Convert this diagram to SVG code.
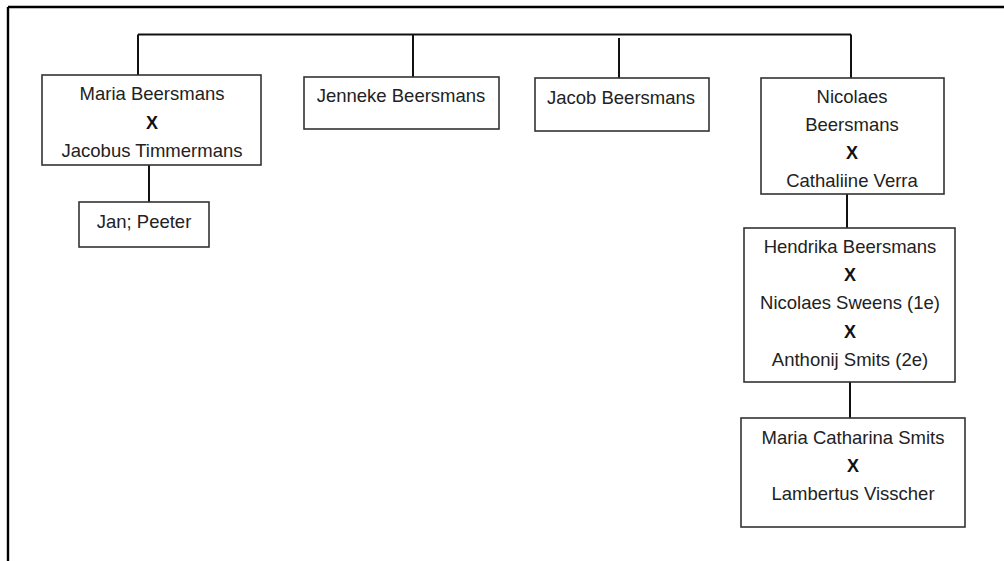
<svg xmlns="http://www.w3.org/2000/svg" width="1004" height="561" viewBox="0 0 1004 561">
<style>
.box{fill:#fff;stroke:#333;stroke-width:1.6}
.conn{stroke:#111;stroke-width:2;fill:none}
text{font-family:"Liberation Sans",Arial,sans-serif;font-size:18.5px;fill:#222;text-anchor:middle}
.x{font-weight:bold;font-size:18px;fill:#111}
</style>
<rect x="0" y="0" width="1004" height="561" fill="#fff"/>
<path d="M8 7 H1004 M8 7 V561" stroke="#000" stroke-width="2.4" fill="none"/>
<g id="connectors">
<path class="conn" d="M138 34.5 H851"/>
<path class="conn" d="M138 34.5 V75"/>
<path class="conn" d="M413 34.5 V77"/>
<path class="conn" d="M619 38 V78"/>
<path class="conn" d="M851 34.5 V78"/>
<path class="conn" d="M149 165 V202"/>
<path class="conn" d="M847 194 V228"/>
<path class="conn" d="M850 382 V418"/>
</g>
<g id="maria">
<rect class="box" x="42" y="75" width="219" height="90"/>
<text x="152" y="100">Maria Beersmans</text>
<text class="x" x="152" y="129">X</text>
<text x="152" y="157">Jacobus Timmermans</text>
</g>
<g id="janpeeter">
<rect class="box" x="79" y="202" width="130" height="45"/>
<text x="144" y="228">Jan; Peeter</text>
</g>
<g id="jenneke">
<rect class="box" x="304" y="77" width="195" height="52"/>
<text x="401" y="102">Jenneke Beersmans</text>
</g>
<g id="jacob">
<rect class="box" x="535" y="78" width="174" height="53"/>
<text x="621" y="104">Jacob Beersmans</text>
</g>
<g id="nicolaes">
<rect class="box" x="761" y="78" width="183" height="116"/>
<text x="852" y="103">Nicolaes</text>
<text x="852" y="131">Beersmans</text>
<text class="x" x="852" y="159">X</text>
<text x="852" y="187">Cathaliine Verra</text>
</g>
<g id="hendrika">
<rect class="box" x="744" y="228" width="211" height="154"/>
<text x="850" y="253">Hendrika Beersmans</text>
<text class="x" x="850" y="281">X</text>
<text x="850" y="309">Nicolaes Sweens (1e)</text>
<text class="x" x="850" y="338">X</text>
<text x="850" y="366">Anthonij Smits (2e)</text>
</g>
<g id="mariacatharina">
<rect class="box" x="741" y="418" width="224" height="109"/>
<text x="853" y="444">Maria Catharina Smits</text>
<text class="x" x="853" y="472">X</text>
<text x="853" y="500">Lambertus Visscher</text>
</g>
</svg>
